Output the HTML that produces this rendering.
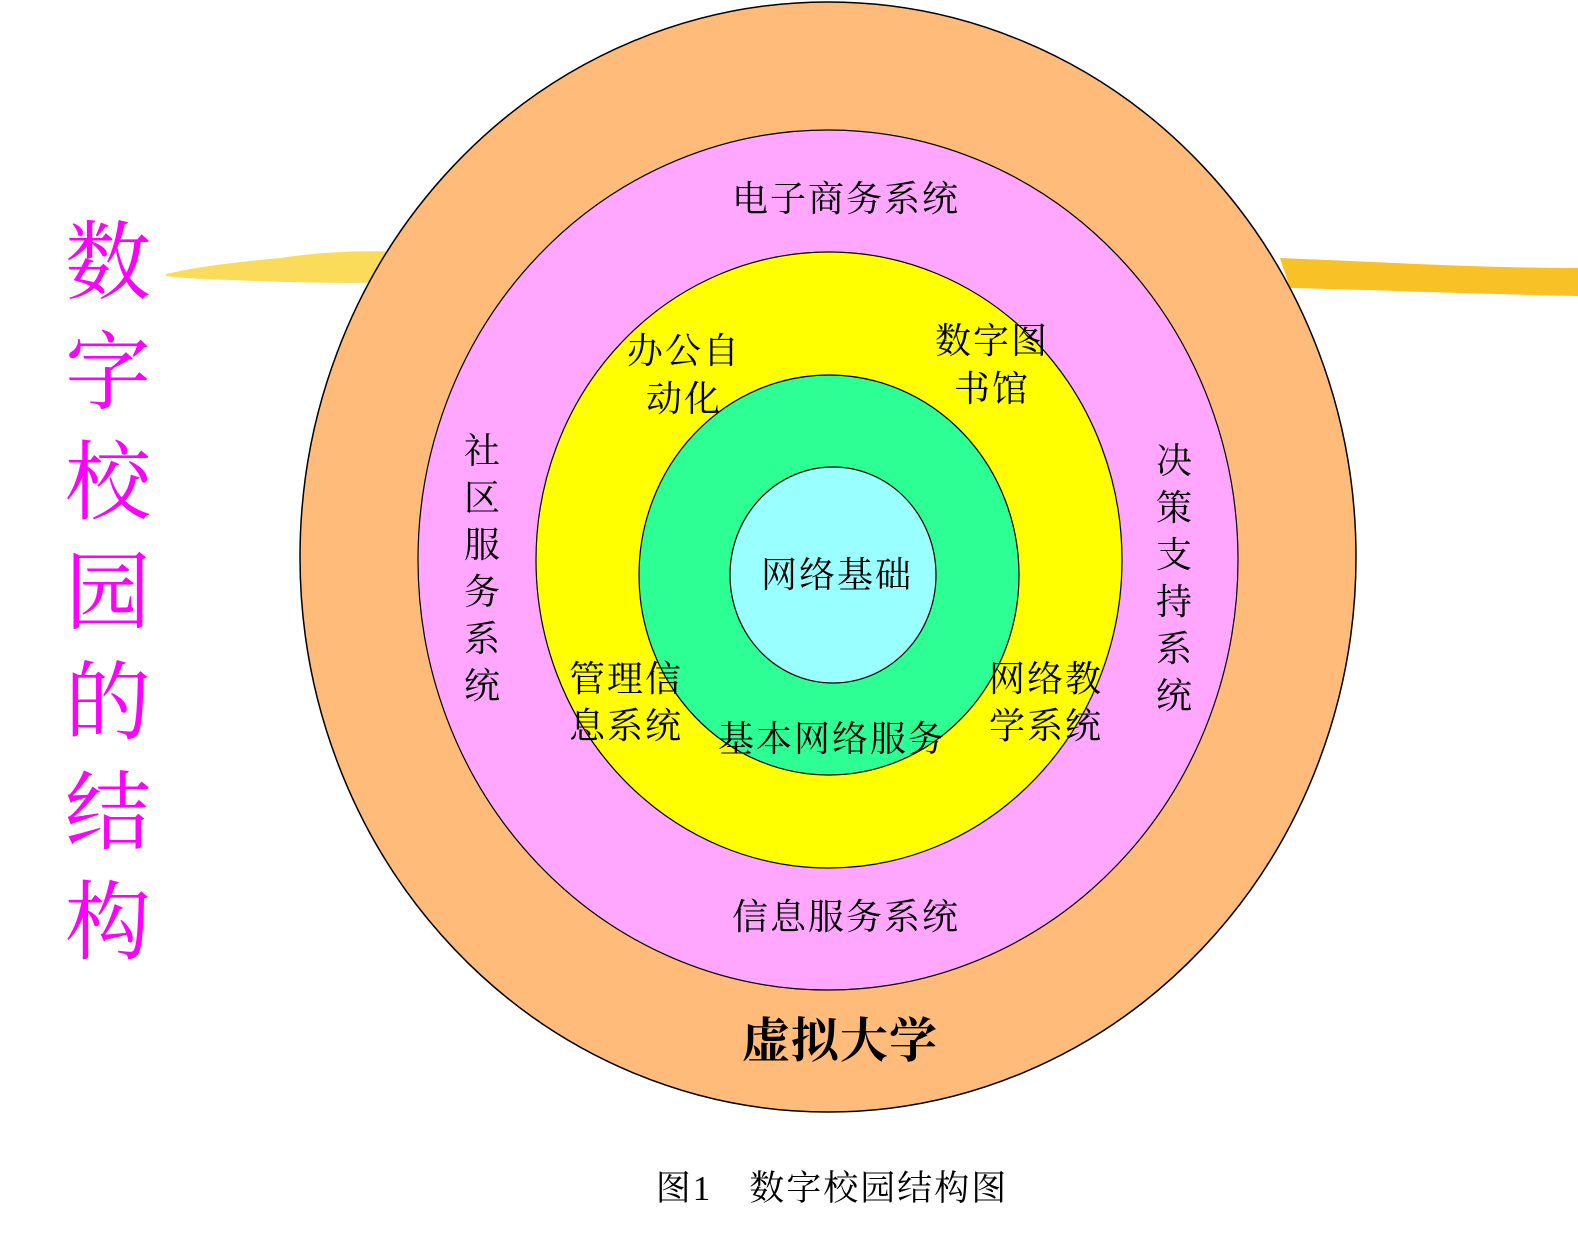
<!DOCTYPE html>
<html><head><meta charset="utf-8"><style>
html,body{margin:0;padding:0;background:#fff;}
svg{display:block;}
text{font-family:"Liberation Serif","Noto Serif CJK SC",serif;fill:#000;}
</style></head><body>
<svg width="1578" height="1234" viewBox="0 0 1578 1234" xmlns="http://www.w3.org/2000/svg">
<path d="M166,274 C200,266 240,262 280,258 C320,252 360,250 400,252 L400,282 C340,284 280,282 230,280 C200,279 180,278 166,276 Z" fill="#fbdc5a"/>
<path d="M1280,258 C1380,262 1480,268 1578,268 L1578,296 C1480,294 1380,290 1290,288 Z" fill="#f8c125"/>
<ellipse cx="828" cy="557" rx="528" ry="555" fill="#ffbb7a" stroke="#000" stroke-width="1.5"/>
<ellipse cx="828" cy="560" rx="410" ry="430" fill="#ffa6ff" stroke="#000" stroke-width="1.2"/>
<ellipse cx="829" cy="560" rx="293" ry="308" fill="#ffff00" stroke="#000" stroke-width="1.2"/>
<ellipse cx="829" cy="575" rx="190" ry="200" fill="#2eff94" stroke="#000" stroke-width="1.2"/>
<ellipse cx="833" cy="575" rx="103" ry="108" fill="#99ffff" stroke="#000" stroke-width="1.2"/>
<g font-size="86" text-anchor="middle">
<text x="108" y="292" style="fill:#ff00ff">数</text>
<text x="108" y="402" style="fill:#ff00ff">字</text>
<text x="108" y="512" style="fill:#ff00ff">校</text>
<text x="108" y="622" style="fill:#ff00ff">园</text>
<text x="108" y="732" style="fill:#ff00ff">的</text>
<text x="108" y="842" style="fill:#ff00ff">结</text>
<text x="108" y="952" style="fill:#ff00ff">构</text>
</g>
<g font-size="36" text-anchor="middle" letter-spacing="2">
<text x="846" y="211">电子商务系统</text>
<text x="846" y="929">信息服务系统</text>
<text x="684" y="363">办公自</text>
<text x="684" y="411">动化</text>
<text x="992" y="353">数字图</text>
<text x="992" y="401">书馆</text>
<text x="626" y="691">管理信</text>
<text x="626" y="738">息系统</text>
<text x="1046" y="691">网络教</text>
<text x="1046" y="738">学系统</text>
<text x="832" y="751">基本网络服务</text>
<text x="837" y="587">网络基础</text>
</g>
<g font-size="36" text-anchor="middle">
<text x="482" y="463">社</text>
<text x="482" y="510">区</text>
<text x="482" y="557">服</text>
<text x="482" y="604">务</text>
<text x="482" y="651">系</text>
<text x="482" y="698">统</text>
<text x="1174" y="473">决</text>
<text x="1174" y="520">策</text>
<text x="1174" y="567">支</text>
<text x="1174" y="614">持</text>
<text x="1174" y="661">系</text>
<text x="1174" y="708">统</text>
</g>
<text x="840" y="1057" font-size="48" font-weight="bold" text-anchor="middle" letter-spacing="1">虚拟大学</text>
<text x="832" y="1200" font-size="35" text-anchor="middle" letter-spacing="2">图1　数字校园结构图</text>
</svg>
</body></html>
